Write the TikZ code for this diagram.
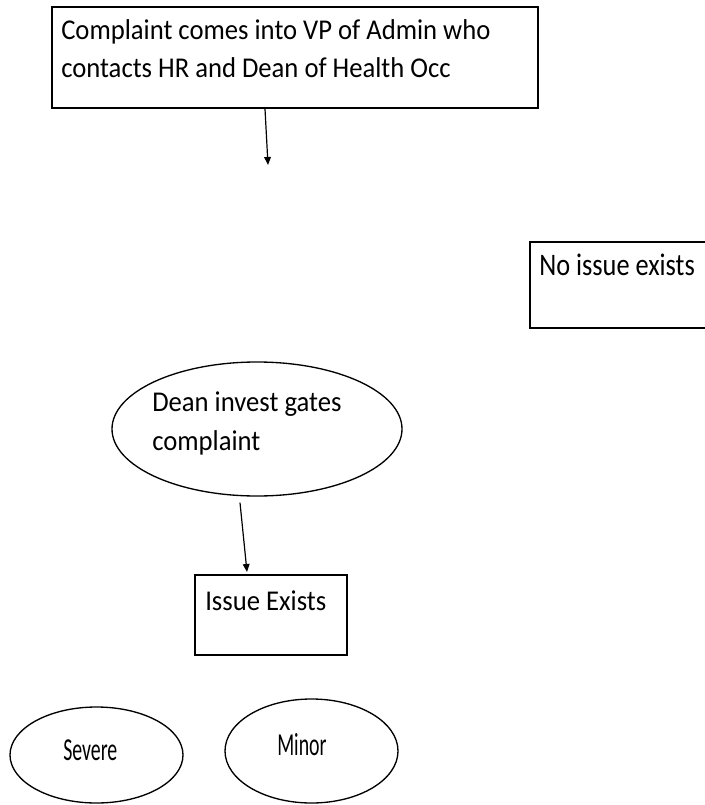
\documentclass[tikz,border=0pt]{standalone}
\usepackage{fontspec}
\usepackage{tikz}
\usetikzlibrary{shapes.geometric, arrows.meta, positioning}
\newfontfamily\bodyfont[FakeStretch=0.93]{Carlito}
\newfontfamily\wideboxfont[FakeStretch=0.84]{Carlito}
\newfontfamily\ovalfont[FakeStretch=0.62]{Carlito}

\begin{document}
\begin{tikzpicture}[
  x=0.75pt, y=-0.75pt,
  box/.style={draw, line width=1.5pt, rectangle, inner sep=0pt},
  oval/.style={draw, line width=1pt, ellipse, inner sep=0pt},
  txt/.style={inner sep=0pt, anchor=base west, align=left, font=\bodyfont\fontsize{21.5}{29}\selectfont},
  arrow/.style={draw, line width=0.9pt, -{Triangle[length=6pt, width=5pt]}},
]
  \clip (0,0) rectangle (705,805);

  % shapes
  \node[box, minimum width=364.5pt, minimum height=75.75pt] (vp) at (295,57.5) {};
  \node[box, minimum width=142.5pt, minimum height=64.5pt] (noissue) at (625,285) {};
  \node[oval, minimum width=217.5pt, minimum height=100.5pt] (dean) at (257,429) {};
  \node[box, minimum width=114pt, minimum height=60pt] (issue) at (271,615) {};
  \node[oval, minimum width=129.75pt, minimum height=72pt] (severe) at (96.5,755) {};
  \node[oval, minimum width=129.75pt, minimum height=78pt] (minor) at (311.5,751) {};

  % texts (base = last line)
  \node[txt] (vptext) at (61,78) {Complaint comes into VP of Admin who\\contacts HR and Dean of Health Occ};
  \node[txt, font=\wideboxfont\fontsize{23.5}{29}\selectfont] (noissuetext) at (539,275) {No issue exists};
  \node[txt] (deantext) at (152,450) {Dean invest gates\\complaint};
  \node[txt] (issuetext) at (205,610) {Issue Exists};
  \node[txt, font=\ovalfont\fontsize{24}{29}\selectfont] (severetext) at (63,760) {Severe};
  \node[txt, font=\ovalfont\fontsize{24}{29}\selectfont] (minortext) at (277,755) {Minor};

  % connectors
  \coordinate (vpend) at (268,165);
  \draw[arrow] ([xshift=-22.5pt]vp.south) -- (vpend);
  \draw[arrow] ([shift={(-12.75pt,-4.5pt)}]dean.south) -- ([shift={(-18pt,1.5pt)}]issue.north);
\end{tikzpicture}
\end{document}
